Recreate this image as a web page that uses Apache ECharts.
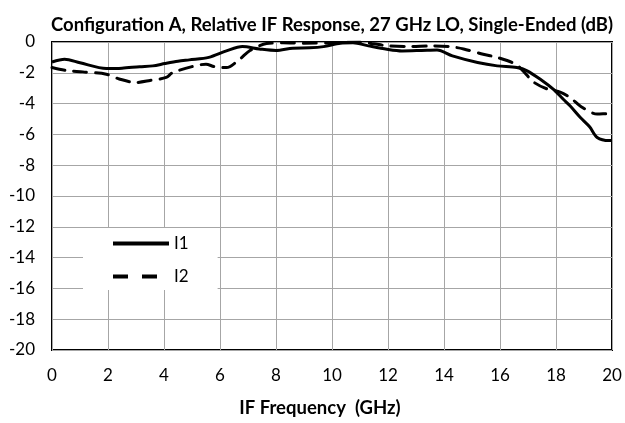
<!DOCTYPE html>
<html><head><meta charset="utf-8">
<script src="https://cdn.jsdelivr.net/npm/echarts@6/dist/echarts.min.js"></script>
<style>html,body{margin:0;padding:0;background:#fff}#c{width:625px;height:423px}</style>
</head><body><div id="c"></div>
<script>
var titleText = 'Configuration A, Relative IF Response, 27 GHz LO, Single-Ended (dB)';
var xAxisName = 'IF Frequency  (GHz)';
var seriesNames = ['I1', 'I2'];
var x1 = [0,0.45,1,1.94,2.5,3.13,3.6,4.03,4.5,4.9,5.6,6.23,6.8,7.4,8.0,8.6,9.2,9.7,10.3,10.75,11.3,11.96,12.5,13.2,13.75,14.3,15.2,15.9,16.6,16.97,17.5,17.9,18.26,18.5,18.87,19.2,19.47,19.9,20];
var i1 = [-1.3,-1.12,-1.35,-1.72,-1.7,-1.6,-1.55,-1.4,-1.25,-1.16,-1.0,-0.58,-0.3,-0.45,-0.55,-0.4,-0.38,-0.3,-0.08,-0.05,-0.25,-0.47,-0.58,-0.55,-0.52,-0.9,-1.33,-1.55,-1.66,-1.87,-2.5,-3.06,-3.72,-4.14,-4.9,-5.5,-6.2,-6.4,-6.4];
var x2 = [0,0.5,1.1,1.94,2.4,3.0,3.5,4.08,4.3,5.0,5.5,5.8,6.23,6.7,7.07,7.66,8.25,9,10,11,11.5,12,12.8,13.5,14.2,14.7,15.4,15.9,16.6,17.2,17.7,18.15,18.5,18.9,19.47,19.9,20];
var i2 = [-1.66,-1.85,-1.94,-2.09,-2.4,-2.63,-2.5,-2.3,-2.0,-1.6,-1.44,-1.6,-1.66,-1.12,-0.55,-0.1,-0.05,-0.08,-0.05,0,-0.12,-0.25,-0.3,-0.25,-0.3,-0.45,-0.8,-1.0,-1.5,-2.6,-3.06,-3.25,-3.6,-4.2,-4.68,-4.65,-4.7];

function zip(a, b) { return a.map(function (v, k) { return [v, b[k]]; }); }
var FONT = 'Lato';
var chart = echarts.init(document.getElementById('c'));
chart.setOption({
  animation: false,
  backgroundColor: '#fff',
  title: {
    text: titleText, left: 46, top: 11,
    textStyle: { fontFamily: FONT, fontWeight: 'bold', fontSize: 18.5, color: '#000' }
  },
  grid: { left: 52, right: 13, top: 42, bottom: 71, show: true, borderColor: '#000', borderWidth: 2, backgroundColor: 'transparent' },
  legend: {
    orient: 'vertical', left: 83, top: 228,
    padding: [7, 29, 5, 30], itemGap: 16, itemWidth: 56, itemHeight: 4,
    backgroundColor: '#fff',
    textStyle: { fontFamily: FONT, fontSize: 17, color: '#000' },
    data: [
      { name: seriesNames[0], icon: 'path://M0,0h56v4h-56z' },
      { name: seriesNames[1], icon: 'path://M0,0h15v4h-15z M29,0h15v4h-15z M56,0v4z' }
    ]
  },
  xAxis: {
    type: 'value', min: 0, max: 20, interval: 2,
    name: xAxisName, nameLocation: 'middle', nameGap: 49,
    nameTextStyle: { fontFamily: FONT, fontWeight: 'bold', fontSize: 18.5, color: '#000', padding: [0, 24, 0, 0] },
    axisLine: { show: false }, axisTick: { show: false },
    axisLabel: { fontFamily: FONT, fontSize: 17, color: '#000', margin: 17 },
    splitLine: { show: true, lineStyle: { color: '#a6a6a6', width: 1 } }
  },
  yAxis: {
    type: 'value', min: -20, max: 0, interval: 2,
    axisLine: { show: false }, axisTick: { show: false },
    axisLabel: { fontFamily: FONT, fontSize: 17, color: '#000', margin: 17 },
    splitLine: { show: true, lineStyle: { color: '#a6a6a6', width: 1 } }
  },
  series: [
    { name: seriesNames[0], type: 'line', data: zip(x1, i1), smooth: 0.3, symbol: 'none', z: 3,
      lineStyle: { color: '#000', width: 3, type: 'solid' }, itemStyle: { color: '#000' } },
    { name: seriesNames[1], type: 'line', data: zip(x2, i2), smooth: 0.3, symbol: 'none', z: 2,
      lineStyle: { color: '#000', width: 3, type: [13, 9], cap: 'round' }, itemStyle: { color: '#000' } }
  ]
});
</script></body></html>
